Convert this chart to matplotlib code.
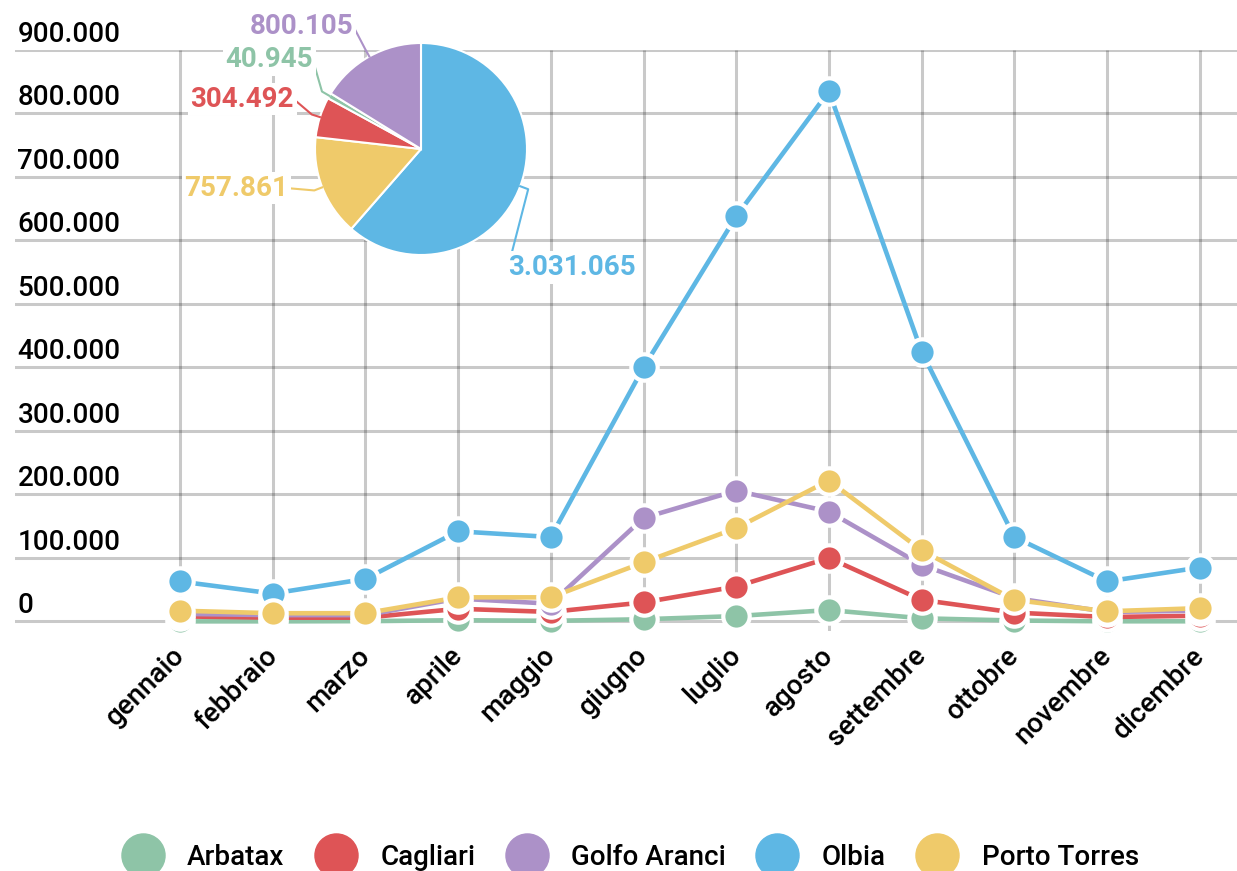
import matplotlib
matplotlib.use('Agg')
import matplotlib.pyplot as plt
from matplotlib.lines import Line2D
from matplotlib.transforms import ScaledTranslation
import numpy as np

# --- data
months = ['gennaio', 'febbraio', 'marzo', 'aprile', 'maggio', 'giugno',
          'luglio', 'agosto', 'settembre', 'ottobre', 'novembre', 'dicembre']
ports = ['Arbatax', 'Cagliari', 'Golfo Aranci', 'Olbia', 'Porto Torres']
colors = ['#8ec4a7', '#de5456', '#ac91c8', '#5eb7e4', '#efca6a']

arbatax = [200, 200, 500, 2000, 1000, 3500, 8500, 18000, 5000, 1500, 300, 300]
cagliari = [8000, 6000, 6000, 20000, 15000, 30000, 55000, 100000, 34000, 14000, 7000, 9000]
golfo_aranci = [12000, 10000, 10000, 36000, 28000, 163000, 206000, 173000, 89000, 37000, 15000, 17000]
olbia = [63000, 44000, 67000, 142000, 133000, 400000, 638000, 835000, 425000, 133000, 63000, 85000]
porto_torres = [17000, 13000, 13000, 38000, 38000, 93000, 147000, 222000, 112000, 34000, 16000, 21000]
series = [arbatax, cagliari, golfo_aranci, olbia, porto_torres]

# pie: yearly totals, clockwise from the top
pie_ports = ['Olbia', 'Porto Torres', 'Cagliari', 'Arbatax', 'Golfo Aranci']
pie_totals = [3031065, 757861, 304492, 40945, 800105]

yticks = np.arange(0, 900001, 100000)


def fmt(v):
    return f'{v:,.0f}'.replace(',', '.')


W, H = 1237, 871
plt.rcParams['font.family'] = ['Roboto', 'DejaVu Sans']
fig = plt.figure(figsize=(W / 100, H / 100), dpi=100)

# --- line chart
ax = fig.add_axes([15 / W, 1 - 631 / H, 1 - 15 / W, 581 / H])
x = np.arange(len(months))
ax.set_xlim((15 - 180) / 92.7, (W - 180) / 92.7)
ax.set_ylim(-15000, 900000)
for s in ax.spines.values():
    s.set_visible(False)

ax.set_yticks(yticks)
ax.yaxis.grid(True, color='k', alpha=0.21, lw=2.2)
ax.vlines(x, -15000, 900000, color='k', alpha=0.21, lw=2.2, zorder=0)
ax.set_axisbelow(True)
ax.tick_params(axis='y', length=0, labelleft=False)
for v in yticks:
    ax.annotate(fmt(v), xy=(0.002, v), xycoords=ax.get_yaxis_transform(),
                xytext=(0, 6), textcoords='offset points', va='baseline',
                ha='left', fontsize=20, fontweight='medium')

ax.set_xticks(x)
ax.set_xticklabels(months, rotation=45, ha='right', rotation_mode='anchor',
                   fontsize=20, fontweight='medium')
ax.tick_params(axis='x', length=0, pad=8)
shift = ScaledTranslation(-0.09, 0, fig.dpi_scale_trans)
for lab in ax.get_xticklabels():
    lab.set_transform(lab.get_transform() + shift)

for vals, c in zip(series, colors):
    ax.plot(x, vals, color=c, lw=3.3, marker='o', ms=19, mfc=c,
            mec='white', mew=3, clip_on=False)

# --- pie
R = 106
k = 1.6
pax = fig.add_axes([(421 - R * k) / W, 1 - (149 + R * k) / H, 2 * R * k / W, 2 * R * k / H])
pcol = [colors[ports.index(p)] for p in pie_ports]
wedges, _ = pax.pie(pie_totals, colors=pcol, startangle=90, counterclock=False,
                    radius=1, wedgeprops=dict(edgecolor='white', linewidth=1.5))
pax.set_xlim(-k, k)
pax.set_ylim(-k, k)
pax.set_aspect('equal')
pax.axis('off')

label_pos = {
    'Olbia': (0.82, -1.12, 'left'),
    'Porto Torres': (-1.25, -0.37, 'right'),
    'Cagliari': (-1.2, 0.47, 'right'),
    'Arbatax': (-1.02, 0.84, 'right'),
    'Golfo Aranci': (-0.64, 1.16, 'right'),
}
for w, p, val, c in zip(wedges, pie_ports, pie_totals, pcol):
    a = np.deg2rad((w.theta1 + w.theta2) / 2)
    ex, ey = np.cos(a), np.sin(a)
    lx, ly, ha = label_pos[p]
    pax.plot([ex, 1.08 * ex, lx], [ey, 1.08 * ey, ly], color=c, lw=1.5,
             clip_on=False, zorder=1)
    pax.text(lx, ly, fmt(val), color=c, fontsize=20, fontweight='bold',
             ha=ha, va='center', zorder=3,
             bbox=dict(facecolor='white', edgecolor='none', pad=2))

# --- legend
handles = [Line2D([], [], ls='none', marker='o', ms=31, color=c, mec=c) for c in colors]
fig.legend(handles, ports, loc='center', bbox_to_anchor=(0.509, 0.016), ncol=5,
           frameon=False, prop=dict(size=20, weight='medium'), handlelength=1.6,
           handletextpad=0.8, columnspacing=1.05)

fig.savefig('out.png', dpi=100)
